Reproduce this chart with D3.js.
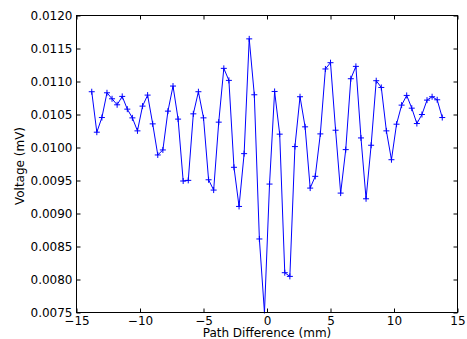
<!DOCTYPE html>
<html>
<head>
<meta charset="utf-8">
<script src="https://cdn.jsdelivr.net/npm/d3@7"></script>
<style>
html, body { margin: 0; padding: 0; background: #fff; }
svg { display: block; }
text { font-family: "DejaVu Sans", sans-serif; fill: #000; }
</style>
</head>
<body>
<svg id="chart" width="467" height="339"></svg>
<script>
// Path difference (mm): -13.8 .. 13.8 in 0.4 mm steps
const pathDiff = [
  -13.8, -13.4, -13.0, -12.6, -12.2, -11.8, -11.4, -11.0, -10.6, -10.2,
  -9.8, -9.4, -9.0, -8.6, -8.2, -7.8, -7.4, -7.0, -6.6, -6.2,
  -5.8, -5.4, -5.0, -4.6, -4.2, -3.8, -3.4, -3.0, -2.6, -2.2,
  -1.8, -1.4, -1.0, -0.6, -0.2, 0.2, 0.6, 1.0, 1.4, 1.8,
  2.2, 2.6, 3.0, 3.4, 3.8, 4.2, 4.6, 5.0, 5.4, 5.8,
  6.2, 6.6, 7.0, 7.4, 7.8, 8.2, 8.6, 9.0, 9.4, 9.8,
  10.2, 10.6, 11.0, 11.4, 11.8, 12.2, 12.6, 13.0, 13.4, 13.8
];
const voltage = [
  0.010845, 0.010232, 0.010454, 0.010829, 0.010738, 0.010647, 0.010774, 0.010581, 0.010449, 0.010252,
  0.010627, 0.010794, 0.010358, 0.009887, 0.009963, 0.010551, 0.010931, 0.010430, 0.009492, 0.009502,
  0.010510, 0.010845, 0.010449, 0.009511, 0.009355, 0.010384, 0.011199, 0.011017, 0.009700, 0.009107,
  0.009907, 0.011646, 0.010799, 0.008614, 0.007500, 0.009446, 0.010849, 0.010202, 0.008103, 0.008047,
  0.010014, 0.010769, 0.010313, 0.009385, 0.009563, 0.010206, 0.011190, 0.011285, 0.010262, 0.009309,
  0.009968, 0.011042, 0.011229, 0.010145, 0.009223, 0.010034, 0.011012, 0.010910, 0.010252, 0.009815,
  0.010353, 0.010642, 0.010789, 0.010596, 0.010363, 0.010500, 0.010718, 0.010769, 0.010723, 0.010454
];
const xTicks = [-15, -10, -5, 0, 5, 10, 15];
const yTicks = [0.0075, 0.0080, 0.0085, 0.0090, 0.0095, 0.0100, 0.0105, 0.0110, 0.0115, 0.0120];
const xLabel = "Path Difference (mm)";
const yLabel = "Voltage (mV)";

(function () {
const svg = d3.select("#chart");
const mLeft = 76.5, mRight = 457.5, mTop = 15.5, mBottom = 312.5;
const x = d3.scaleLinear().domain([-15, 15]).range([mLeft, mRight]);
const y = d3.scaleLinear().domain([0.0075, 0.0120]).range([mBottom, mTop]);
const fontSize = 12;

const clipId = "plotclip";
svg.append("clipPath").attr("id", clipId)
  .append("rect").attr("x", mLeft).attr("y", mTop - 1).attr("width", mRight - mLeft).attr("height", mBottom - mTop + 2);

const data = pathDiff.map((d, i) => [d, voltage[i]]);
const g = svg.append("g").attr("clip-path", `url(#${clipId})`);
g.append("path")
  .datum(data)
  .attr("fill", "none")
  .attr("stroke", "#0000ff")
  .attr("stroke-width", 1)
  .attr("d", d3.line().x(d => x(d[0])).y(d => y(d[1])));

// '+' markers
const m = 3;
g.selectAll("path.mk").data(data).join("path")
  .attr("class", "mk")
  .attr("fill", "none")
  .attr("stroke", "#0000ff")
  .attr("stroke-width", 1)
  .attr("d", d => {
    const px = x(d[0]), py = y(d[1]);
    return `M${px - m},${py}H${px + m}M${px},${py - m}V${py + m}`;
  });

const fmtY = d3.format(".4f");
const axB = d3.axisBottom(x).tickValues(xTicks).tickSizeInner(-4).tickSizeOuter(0).tickPadding(3.5).tickFormat(d3.format("d"));
const axT = d3.axisTop(x).tickValues(xTicks).tickSizeInner(-4).tickSizeOuter(0).tickFormat("");
const axL = d3.axisLeft(y).tickValues(yTicks).tickSizeInner(-4).tickSizeOuter(0).tickPadding(4).tickFormat(fmtY);
const axR = d3.axisRight(y).tickValues(yTicks).tickSizeInner(-4).tickSizeOuter(0).tickFormat("");

function styleAxis(sel) {
  sel.select(".domain").remove();
  sel.selectAll(".tick line").attr("stroke", "#000").attr("stroke-width", 1);
  sel.selectAll(".tick text").style("font-size", fontSize + "px").style("font-family", "DejaVu Sans");
}
svg.append("g").attr("transform", `translate(0,${mBottom})`).call(axB).call(styleAxis);
svg.append("g").attr("transform", `translate(0,${mTop})`).call(axT).call(styleAxis);
svg.append("g").attr("transform", `translate(${mLeft},0)`).call(axL).call(styleAxis);
svg.append("g").attr("transform", `translate(${mRight},0)`).call(axR).call(styleAxis);

svg.append("rect")
  .attr("x", mLeft).attr("y", mTop).attr("width", mRight - mLeft).attr("height", mBottom - mTop)
  .attr("fill", "none").attr("stroke", "#000").attr("stroke-width", 1);

svg.append("text")
  .attr("x", (mLeft + mRight) / 2).attr("y", 336.5)
  .attr("text-anchor", "middle")
  .style("font-size", fontSize + "px")
  .text(xLabel);

svg.append("text")
  .attr("transform", `translate(24,${(mTop + mBottom) / 2 + 2}) rotate(-90)`)
  .attr("text-anchor", "middle")
  .style("font-size", fontSize + "px")
  .text(yLabel);
})();
</script>
</body>
</html>
